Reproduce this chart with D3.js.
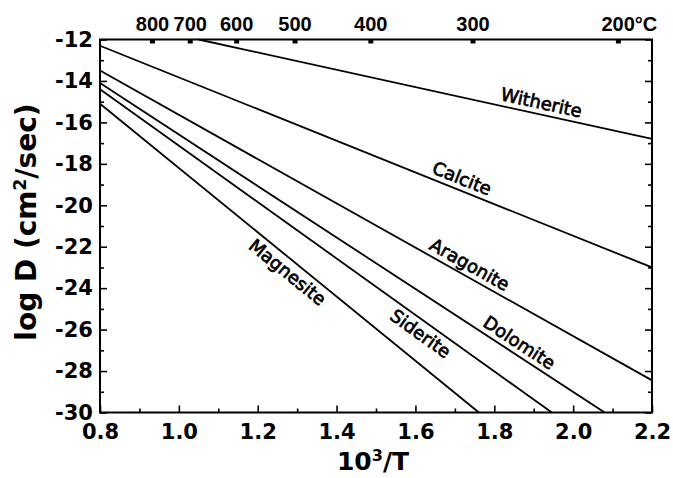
<!DOCTYPE html>
<html>
<head>
<meta charset="utf-8">
<script src="https://cdn.jsdelivr.net/npm/d3@7"></script>
<style>
  body { margin: 0; background: #fff; }
  text { font-family: "DejaVu Sans", sans-serif; fill: #000; }
</style>
</head>
<body>
<svg id="chart"></svg>
<script>
// lines: each one straight, from (x0,y0) to (x1,y1)
const minerals = ["Witherite", "Calcite", "Aragonite", "Dolomite", "Siderite", "Magnesite"];
const startX = [1.05, 0.8, 0.8, 0.8, 0.8, 0.8];
const startY = [-12, -12.3, -13.5, -14.1, -14.4, -15.1];
const endX = [2.2, 2.2, 2.2, 2.08, 1.946, 1.761];
const endY = [-16.8, -23.0, -28.45, -30, -30, -30];
// where along each line its name sits (x value) and on which side
const labelX = [1.913, 1.707, 1.723, 1.847, 1.631, 1.295];
const labelSide = [1, 1, 1, 1, -1, -1];

const xTicks = [0.8, 1.0, 1.2, 1.4, 1.6, 1.8, 2.0, 2.2];
const xMinor = [0.9, 1.1, 1.3, 1.5, 1.7, 1.9, 2.1];
const yTicks = [-30, -28, -26, -24, -22, -20, -18, -16, -14, -12];
const yMinor = [-29, -27, -25, -23, -21, -19, -17, -15, -13];
const tempC = [800, 700, 600, 500, 400, 300, 200];

const margin = { top: 39.5, right: 21, bottom: 65.5, left: 100 };
const width = 673 - margin.left - margin.right;
const height = 478 - margin.top - margin.bottom;

const svg = d3.select("#chart").attr("width", 673).attr("height", 478);
const chart = svg.append("g")
    .attr("transform", `translate(${margin.left},${margin.top})`);

const xScale = d3.scaleLinear().domain([0.8, 2.2]).range([0, width]);
const yScale = d3.scaleLinear().domain([-30, -12]).range([height, 0]);

// axes, ticks pointing inward
function styleAxis(sel, fs, family) {
    sel.select(".domain").remove();
    sel.selectAll(".tick line").attr("stroke", "#000").attr("stroke-width", 1.6);
    sel.selectAll(".tick text")
        .style("font-family", family || "'DejaVu Sans', sans-serif")
        .style("font-weight", "bold")
        .style("font-size", fs + "px");
}

chart.append("g").attr("transform", `translate(0,${height})`)
    .call(d3.axisBottom(xScale).tickValues(xTicks).tickSize(-7).tickPadding(12)
        .tickFormat(d3.format(".1f")))
    .call(styleAxis, 21);
chart.append("g").attr("transform", `translate(0,${height})`)
    .call(d3.axisBottom(xScale).tickValues(xMinor).tickSize(-4).tickFormat(""))
    .call(styleAxis, 21);

chart.append("g")
    .call(d3.axisLeft(yScale).tickValues(yTicks).tickSize(-7).tickPadding(7)
        .tickFormat(d => String(d)))
    .call(styleAxis, 21);
chart.append("g")
    .call(d3.axisLeft(yScale).tickValues(yMinor).tickSize(-4).tickFormat(""))
    .call(styleAxis, 21);

chart.append("g").attr("transform", `translate(${width},0)`)
    .call(d3.axisRight(yScale).tickValues(yTicks).tickSize(-7).tickFormat(""))
    .call(styleAxis, 21);
chart.append("g").attr("transform", `translate(${width},0)`)
    .call(d3.axisRight(yScale).tickValues(yMinor).tickSize(-4).tickFormat(""))
    .call(styleAxis, 21);

// temperature scale on top: 10^3/T with T in kelvin
const topAxis = chart.append("g")
    .call(d3.axisTop(xScale).tickValues(tempC.map(t => 1000 / (t + 273.15)))
        .tickSize(-4).tickPadding(9)
        .tickFormat((d, i) => tempC[i] === 200 ? "200°C" : tempC[i]))
    .call(styleAxis, 20, "'Liberation Sans', Arial, sans-serif");
topAxis.selectAll(".tick line").attr("stroke-width", 5);
topAxis.selectAll(".tick text").filter((d, i) => tempC[i] === 200)
    .attr("text-anchor", "start").attr("x", -17);

// frame
chart.append("rect")
    .attr("width", width).attr("height", height)
    .attr("fill", "none").attr("stroke", "#000").attr("stroke-width", 2);

// diffusion lines
const line = d3.line().x(d => xScale(d[0])).y(d => yScale(d[1]));
const lineData = minerals.map((m, i) => [[startX[i], startY[i]], [endX[i], endY[i]]]);

chart.selectAll(".mline")
    .data(lineData)
    .join("path")
    .attr("class", "mline")
    .attr("d", line)
    .attr("fill", "none")
    .attr("stroke", "#000")
    .attr("stroke-width", 1.8);

// names written along the lines
chart.selectAll(".mlabel")
    .data(minerals)
    .join("text")
    .attr("class", "mlabel")
    .attr("text-anchor", "middle")
    .attr("dominant-baseline", "central")
    .style("font-size", "18px")
    .style("stroke", "#000")
    .style("stroke-width", 0.7)
    .attr("transform", (m, i) => {
        const x0 = xScale(startX[i]), y0 = yScale(startY[i]);
        const x1 = xScale(endX[i]), y1 = yScale(endY[i]);
        const a = Math.atan2(y1 - y0, x1 - x0);
        const px = xScale(labelX[i]);
        const py = y0 + (px - x0) * (y1 - y0) / (x1 - x0);
        const off = 12 * labelSide[i];
        const cx = px + off * Math.sin(a);
        const cy = py - off * Math.cos(a);
        return `translate(${cx},${cy}) rotate(${a * 180 / Math.PI})`;
    })
    .text(m => m);

// axis titles
const yTitle = svg.append("text")
    .attr("transform", "translate(36,222) rotate(-90)")
    .attr("text-anchor", "middle")
    .style("font-size", "28px")
    .style("font-weight", "bold");
yTitle.append("tspan").text("log D (cm");
yTitle.append("tspan").attr("dy", -10).style("font-size", "17px").text("2");
yTitle.append("tspan").attr("dy", 10).text("/sec)");

const xTitle = svg.append("text")
    .attr("x", 373).attr("y", 470)
    .attr("text-anchor", "middle")
    .style("font-size", "25px")
    .style("font-weight", "bold");
xTitle.append("tspan").text("10");
xTitle.append("tspan").attr("dy", -9).style("font-size", "16px").text("3");
xTitle.append("tspan").attr("dy", 9).text("/T");
</script>
</body>
</html>
